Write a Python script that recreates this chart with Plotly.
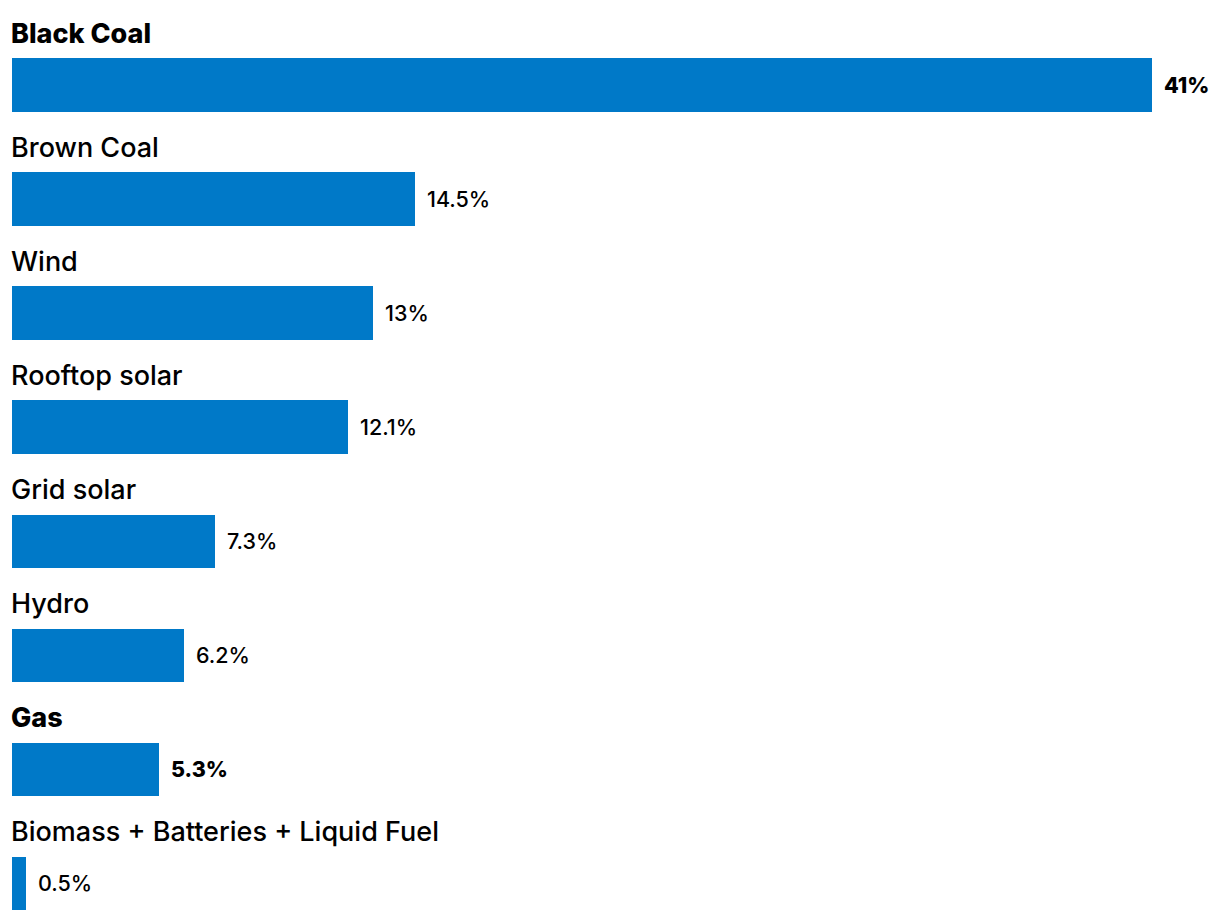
import plotly.graph_objects as go

categories = ["Black Coal", "Brown Coal", "Wind", "Rooftop solar", "Grid solar",
              "Hydro", "Gas", "Biomass + Batteries + Liquid Fuel"]
values = [41, 14.5, 13, 12.1, 7.3, 6.2, 5.3, 0.5]
value_labels = ["41%", "14.5%", "13%", "12.1%", "7.3%", "6.2%", "5.3%", "0.5%"]
highlight = [True, False, False, False, False, False, True, False]

BAR = "#0079C8"
FONT = "Inter, Noto Sans, sans-serif"
pos = list(range(len(categories)))

fig = go.Figure()
fig.add_trace(go.Bar(
    x=values, y=pos, orientation="h",
    marker=dict(color=BAR, line=dict(width=0)),
    width=0.465, hoverinfo="skip", showlegend=False,
))

annotations = []
for i, (c, v, lab, h) in enumerate(zip(categories, values, value_labels, highlight)):
    annotations.append(dict(
        x=0, y=i - 0.456, xref="x", yref="y", text=c, showarrow=False,
        xanchor="left", yanchor="middle", xshift=-3,
        font=dict(family=FONT, size=27, color="#000000",
                  weight=800 if h else 500),
    ))
    annotations.append(dict(
        x=v, y=i, xref="x", yref="y", text=lab, showarrow=False,
        xanchor="left", yanchor="middle", xshift=10,
        font=dict(family=FONT, size=21.5, color="#000000",
                  weight=800 if h else 500),
    ))

fig.update_layout(
    width=1220, height=920,
    margin=dict(l=4, r=76, t=0, b=0),
    paper_bgcolor="white", plot_bgcolor="white",
    xaxis=dict(range=[0, 41], visible=False, fixedrange=True),
    yaxis=dict(range=[7.3947, -0.6754], visible=False, fixedrange=True),
    annotations=annotations,
    bargap=0,
)

fig.write_html("out.html")
